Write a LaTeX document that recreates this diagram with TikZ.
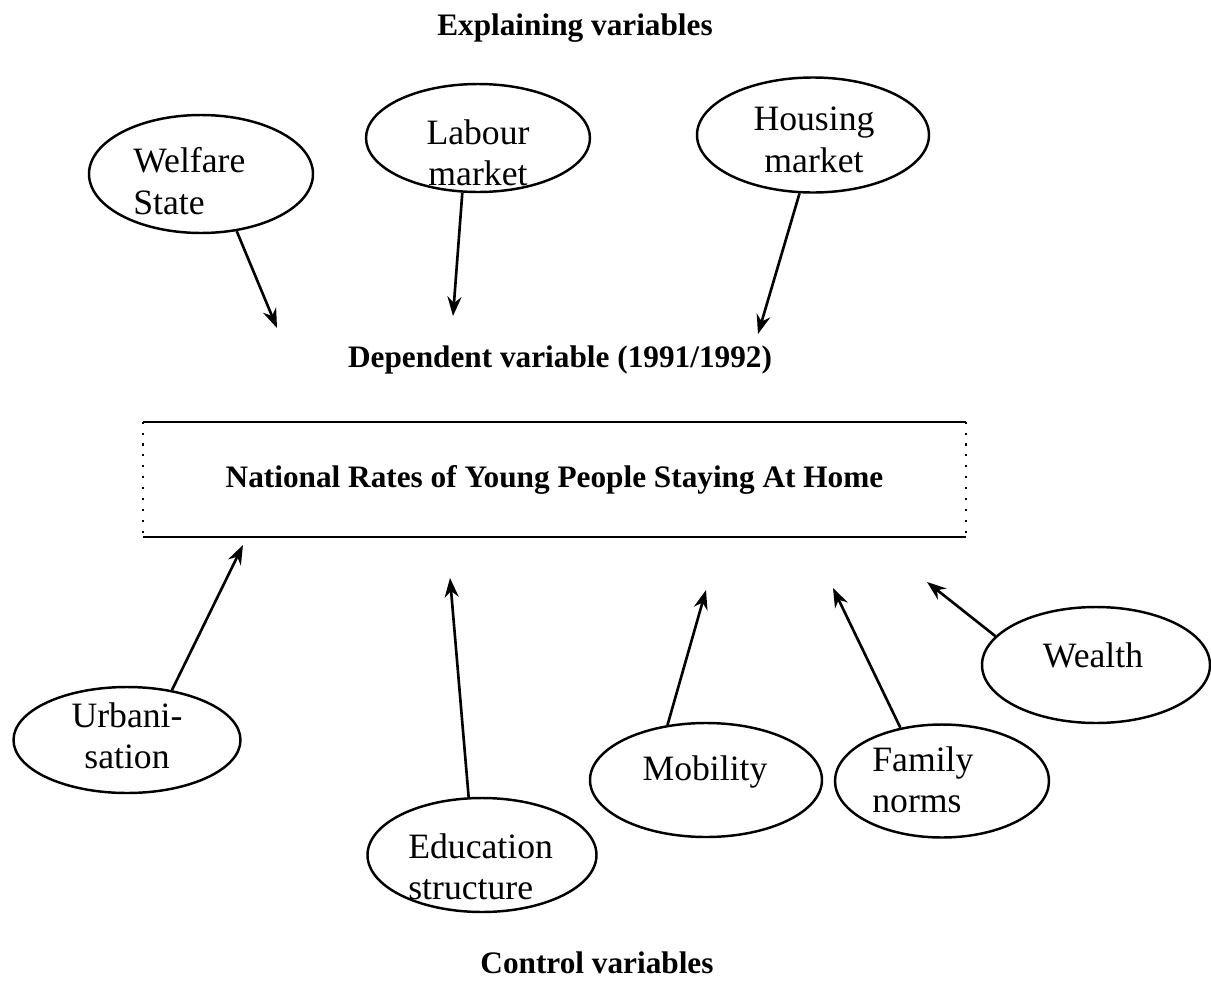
\documentclass[tikz,border=0pt]{standalone}
\usepackage{fontspec}
\setmainfont{Liberation Serif}
\usetikzlibrary{shapes.geometric,arrows.meta}

\begin{document}
\begin{tikzpicture}[x=0.02cm,y=-0.02cm,
    var/.style n args={2}{draw,ellipse,line width=1.4pt,inner sep=0pt,
        minimum width=#1*0.02cm,minimum height=#2*0.02cm},
    vtext/.style={inner sep=0pt,font=\fontsize{20.3}{23.5}\selectfont},
    head/.style={inner sep=0pt,font=\fontsize{17.8}{21}\selectfont\bfseries},
    arr/.style={-{Stealth[length=11pt,width=8pt]},line width=1.5pt}]
\useasboundingbox (0,0) rectangle (1211,981);

% explaining variables
\node[head] (explaining) at (575,28) {Explaining variables};
\node[var={224}{118}] (welfare) at (201,174) {};
\node[var={224}{108}] (labour) at (478,138) {};
\node[var={232}{115}] (housing) at (813,135) {};
\node[vtext,align=left,anchor=west] (welfarelabel) at (133,181) {Welfare\\State};
\node[vtext,align=center] (labourlabel) at (478,153) {Labour\\market};
\node[vtext,align=center] (housinglabel) at (814,140) {Housing\\market};

\coordinate (welfaretip) at (277,328);
\coordinate (labourtip) at (453,316);
\coordinate (housingtip) at (758,334);
\draw[arr] (welfare.302) -- (welfaretip);
\draw[arr] (labour.254) -- (labourtip);
\draw[arr] (housing.257) -- (housingtip);

% dependent variable
\node[head] (dependent) at (560,360) {Dependent variable (1991/1992)};
\node[head,minimum width=823*0.02cm,minimum height=115*0.02cm] (rates) at (554.5,479.5)
    {National Rates of Young People Staying At Home};
\draw[line width=1.2pt] (rates.north west) -- (rates.north east);
\draw[line width=1.2pt] (rates.south west) -- (rates.south east);
\draw[dash pattern=on 1.2pt off 5pt,line width=1pt] (rates.north west) -- (rates.south west);
\draw[dash pattern=on 1.2pt off 5pt,line width=1pt] (rates.north east) -- (rates.south east);

% control variables
\node[var={227}{106}] (urban) at (127,740) {};
\node[var={229}{114}] (educ) at (482,855) {};
\node[var={232}{114}] (mob) at (706,780) {};
\node[var={214}{113}] (fam) at (942,781) {};
\node[var={228}{116}] (wealth) at (1096,665) {};
\node[vtext,align=center] (urbanlabel) at (127,736) {Urbani-\\sation};
\node[vtext,align=left,anchor=west] (educlabel) at (408,867) {Education\\structure};
\node[vtext] (moblabel) at (705,772) {Mobility};
\node[vtext,align=left,anchor=west] (famlabel) at (872,780) {Family\\norms};
\node[vtext] (wealthlabel) at (1093,655) {Wealth};

\coordinate (urbantip) at (243,545);
\coordinate (eductip) at (450,578);
\coordinate (mobtip) at (706,590);
\coordinate (famtip) at (833,588);
\coordinate (wealthtip) at (927,582);
\draw[arr] (urban.48) -- (urbantip);
\draw[arr] (educ.103) -- (eductip);
\draw[arr] (mob.125) -- (mobtip);
\draw[arr] (fam.128) -- (famtip);
\draw[arr] (wealth.164) -- (wealthtip);

\node[head] (control) at (597,963) {Control variables};
\end{tikzpicture}
\end{document}
